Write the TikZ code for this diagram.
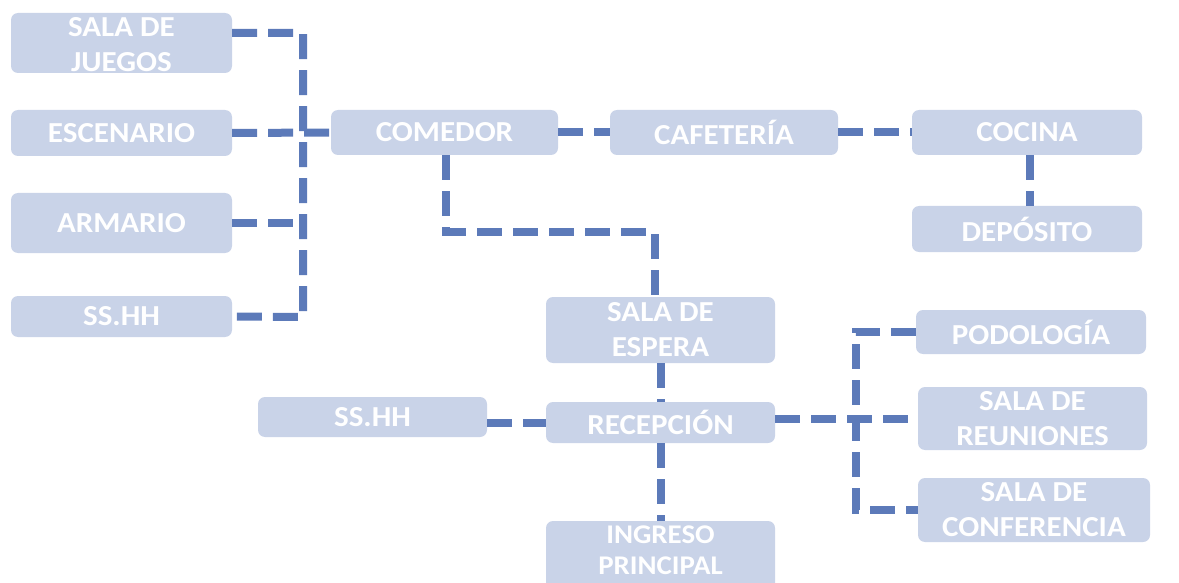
\documentclass[tikz,border=0pt]{standalone}
\usepackage{fontspec}
\newfontfamily\boxfont{Carlito}[FakeStretch=1.07]
\definecolor{boxfill}{RGB}{201,211,232}
\definecolor{linecol}{RGB}{92,122,185}
\begin{document}
\begin{tikzpicture}[x=1pt,y=-1pt,
  box/.style={draw=none,fill=boxfill,rounded corners=7pt,inner sep=0pt},
  txt/.style={text=white,align=center,inner sep=0pt,font=\boxfont\bfseries\fontsize{29}{35}\selectfont},
  conn/.style={draw=linecol,line width=8pt,dash pattern=on 25pt off 11pt}]
\useasboundingbox (0,0) rectangle (1179,583);
% boxes
\node[box,minimum width=221,minimum height=60] (sj) at (121.5,43) {};
\node[box,minimum width=221,minimum height=46] (esc) at (121.5,133) {};
\node[box,minimum width=221,minimum height=60] (arm) at (121.5,223) {};
\node[box,minimum width=221,minimum height=41] (ss1) at (121.5,316.5) {};
\node[box,minimum width=227,minimum height=45] (com) at (444.5,132.5) {};
\node[box,minimum width=228,minimum height=45] (caf) at (724,132.5) {};
\node[box,minimum width=230,minimum height=45] (coc) at (1027,132.5) {};
\node[box,minimum width=230,minimum height=46] (dep) at (1027,229) {};
\node[box,minimum width=229,minimum height=66] (esp) at (660.5,330) {};
\node[box,minimum width=229,minimum height=41] (rec) at (660.5,422.5) {};
\node[box,minimum width=229,minimum height=40] (ss2) at (372.5,417) {};
\node[box,minimum width=229,minimum height=70] (ing) at (660.5,556) {};
\node[box,minimum width=230,minimum height=44] (pod) at (1031,332) {};
\node[box,minimum width=229,minimum height=63] (reu) at (1032.5,418.5) {};
\node[box,minimum width=232,minimum height=64] (conf) at (1034,510) {};
% texts
\node[txt] (sjt) at (121.5,45) {SALA DE\\JUEGOS};
\node[txt] (esct) at (esc) {ESCENARIO};
\node[txt] (armt) at (arm) {ARMARIO};
\node[txt] (ss1t) at (ss1) {SS.HH};
\node[txt] (comt) at (com) {COMEDOR};
\node[txt] (caft) at (caf) {CAFETERÍA};
\node[txt] (coct) at (coc) {COCINA};
\node[txt] (dept) at (dep) {DEPÓSITO};
\node[txt] (espt) at (esp) {SALA DE\\ESPERA};
\node[txt] (rect) at (rec) {RECEPCIÓN};
\node[txt] (ss2t) at (ss2) {SS.HH};
\node[txt,font=\boxfont\bfseries\fontsize{27}{31}\selectfont] (ingt) at (660.5,550) {INGRESO\\PRINCIPAL};
\node[txt] (podt) at (pod) {PODOLOGÍA};
\node[txt] (reut) at (reu) {SALA DE\\REUNIONES};
\node[txt] (conft) at (conf) {SALA DE\\CONFERENCIA};
% connectors
\coordinate (lbtop) at (303,33);
\coordinate (lbbot) at (303,317);
\draw[conn] ([yshift=10pt]sj.east) -- (lbtop) -- (lbbot) -- (ss1.east);
\draw[conn] (esc.east) -- (com.west);
\draw[conn] (arm.east) -- (arm.east -| lbtop);
\draw[conn] (com.east) -- (caf.west);
\draw[conn] (caf.east) -- (coc.west);
\draw[conn] ([xshift=3pt]coc.south) -- ([xshift=3pt]dep.north);
\coordinate (cbend) at (446,232);
\draw[conn] ([xshift=1.5pt]com.south) -- (cbend) -| ([xshift=-5.5pt]esp.north);
\draw[conn] (esp.south) -- (rec.north);
\draw[conn] (rec.south) -- (ing.north);
\draw[conn] (rec.west -| ss2.east) -- (rec.west);
\coordinate (rbtop) at (856,332);
\coordinate (rbbot) at (856,510);
\draw[conn] (reu.west -| rec.east) -- (reu.west);
\draw[conn] (pod.west) -- (rbtop) -- (rbbot) -- (conf.west);
\end{tikzpicture}
\end{document}
